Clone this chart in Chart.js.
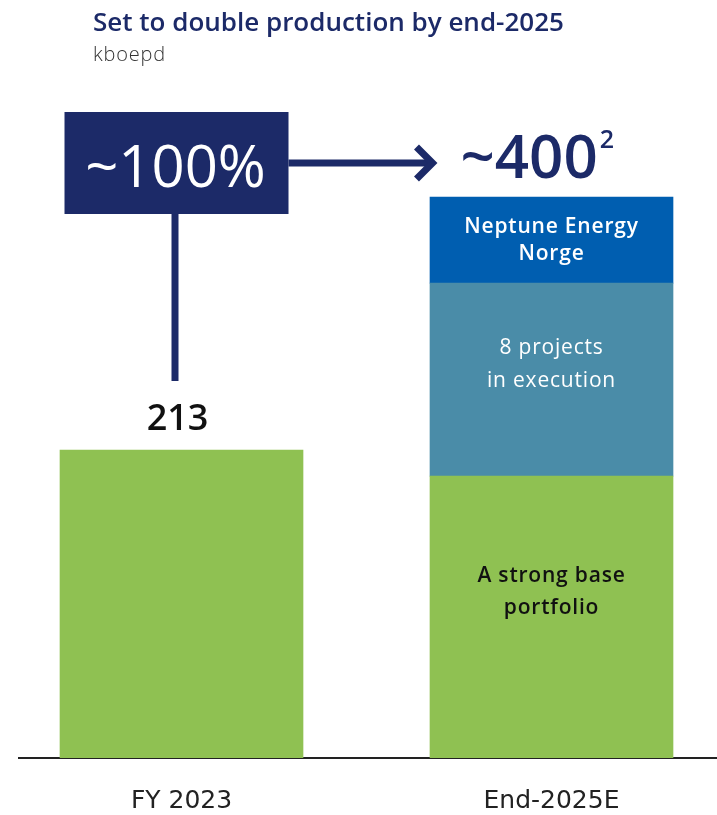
<!DOCTYPE html>
<html>
<head>
<meta charset="utf-8">
<script src="https://cdn.jsdelivr.net/npm/chart.js@4.4.1/dist/chart.umd.min.js"></script>
<style>
  html, body { margin: 0; padding: 0; background: #fff; overflow: hidden; }
  #wrap { position: relative; width: 717px; height: 844px; }
  #chart { position: absolute; left: 0; top: 0; }
  .title { position: absolute; left: 93px; top: 3px; font: 600 26px "Open Sans", sans-serif; color: #1c2a68; white-space: nowrap; }
  .subtitle { position: absolute; left: 93px; top: 40px; font: 300 20px "Open Sans", sans-serif; letter-spacing: 0.8px; color: #333; }
</style>
</head>
<body>
<div id="wrap">
  <canvas id="chart" width="717" height="844"></canvas>
  <div class="title">Set to double production by end-2025</div>
  <div class="subtitle">kboepd</div>
</div>
<script>
// --- Data ---
const categories    = ['FY 2023', 'End-2025E'];
const baseValues    = [213, 195];     // green
const projectValues = [null, 133.5];  // teal
const neptuneValues = [null, 59.5];   // blue

const segmentLabels = [
  ['A strong base', 'portfolio'],
  ['8 projects', 'in execution'],
  ['Neptune Energy', 'Norge']
];
const fy2023Label  = '213';
const growthLabel  = '~100%';
const targetLabel  = '~400';
const targetNote   = '2';

const NAVY  = '#1c2a68';
const GREEN = '#8fc152';
const TEAL  = '#4a8ca8';
const BLUE  = '#005eb0';
const FONT  = '"Open Sans", sans-serif';

const toPoints = arr => arr.map((v, i) => ({ x: i, y: v })).filter(p => p.y !== null);

// --- Annotations: box, arrow, totals, segment text ---
const annotations = {
  id: 'annotations',
  afterDatasetsDraw(chart) {
    const { ctx, scales: { x, y } } = chart;
    const x0 = x.getPixelForValue(0);
    const x1 = x.getPixelForValue(1);
    const top0 = y.getPixelForValue(baseValues[0]);
    const top1 = y.getPixelForValue(baseValues[1] + projectValues[1] + neptuneValues[1]);

    ctx.save();

    // segment labels inside the stacked bar
    const offsets = [-25, -15, 0];
    const lineGaps = [32, 33, 27];
    const colors = ['#111', '#fff', '#fff'];
    ctx.letterSpacing = '0.8px';
    segmentLabels.forEach((lines, d) => {
      const idx = chart.data.datasets[d].data.findIndex(p => p.x === 1);
      const el = chart.getDatasetMeta(d).data[idx];
      if (!el) return;
      const cy = (el.y + el.base) / 2 + offsets[d];
      ctx.fillStyle = colors[d];
      ctx.font = (d === 1 ? '500' : '600') + ' 21px ' + FONT;
      ctx.textAlign = 'center';
      ctx.textBaseline = 'middle';
      lines.forEach((t, i) => {
        ctx.fillText(t, el.x, cy + (i - (lines.length - 1) / 2) * lineGaps[d]);
      });
    });
    ctx.letterSpacing = '0px';

    // 213 above first bar
    ctx.fillStyle = '#111';
    ctx.font = '600 36px ' + FONT;
    ctx.textAlign = 'center';
    ctx.textBaseline = 'alphabetic';
    ctx.fillText(fy2023Label, x0 - 4, top0 - 20);

    // box
    const boxL = x0 - 117, boxT = 112, boxW = 224, boxH = 102;
    ctx.fillStyle = NAVY;
    ctx.fillRect(boxL, boxT, boxW, boxH);
    ctx.fillStyle = '#fff';
    ctx.font = '400 58px ' + FONT;
    ctx.fillText(growthLabel, boxL + boxW / 2 - 1, boxT + 75);

    // vertical connector down to 213
    ctx.strokeStyle = NAVY;
    ctx.lineWidth = 7;
    ctx.beginPath();
    ctx.moveTo(boxL + 110.5, boxT + boxH);
    ctx.lineTo(boxL + 110.5, top0 - 69);
    ctx.stroke();

    // arrow to the target
    const ay = boxT + boxH / 2;
    const tipX = x1 - 116;
    ctx.beginPath();
    ctx.moveTo(boxL + boxW, ay);
    ctx.lineTo(tipX - 3, ay);
    ctx.stroke();
    ctx.beginPath();
    ctx.moveTo(tipX - 19, ay - 16);
    ctx.lineTo(tipX - 3, ay);
    ctx.lineTo(tipX - 19, ay + 16);
    ctx.stroke();

    // ~400 with footnote
    ctx.fillStyle = NAVY;
    ctx.textAlign = 'left';
    ctx.font = '600 60px ' + FONT;
    const tx = x1 - 91;
    ctx.fillText(targetLabel, tx, top1 - 19);
    const w = ctx.measureText(targetLabel).width;
    ctx.font = '600 25px ' + FONT;
    ctx.fillText(targetNote, tx + w + 2, top1 - 49);

    ctx.restore();
  }
};

new Chart(document.getElementById('chart'), {
  type: 'bar',
  data: {
    datasets: [
      { label: 'Base portfolio', data: toPoints(baseValues), backgroundColor: GREEN },
      { label: 'Projects in execution', data: toPoints(projectValues), backgroundColor: TEAL },
      { label: 'Neptune Energy Norge', data: toPoints(neptuneValues), backgroundColor: BLUE }
    ]
  },
  options: {
    responsive: false,
    animation: false,
    barThickness: 243,
    layout: { padding: { left: 19, right: 0, top: 122, bottom: 0 } },
    plugins: { legend: { display: false }, tooltip: { enabled: false } },
    scales: {
      x: {
        type: 'linear',
        stacked: true,
        offset: false,
        bounds: 'data',
        min: -0.4392,
        max: 1.4473,
        afterBuildTicks: axis => { axis.ticks = categories.map((_, i) => ({ value: i })); },
        grid: { display: false, drawTicks: false },
        border: { display: true, color: '#222', width: 2 },
        ticks: {
          autoSkip: false,
          maxRotation: 0,
          padding: 28,
          color: '#222',
          font: { family: '"DejaVu Sans", sans-serif', size: 25 },
          callback: v => categories[v]
        }
      },
      y: {
        stacked: true,
        display: false,
        min: 0,
        max: 440
      }
    }
  },
  plugins: [annotations]
});
</script>
</body>
</html>
